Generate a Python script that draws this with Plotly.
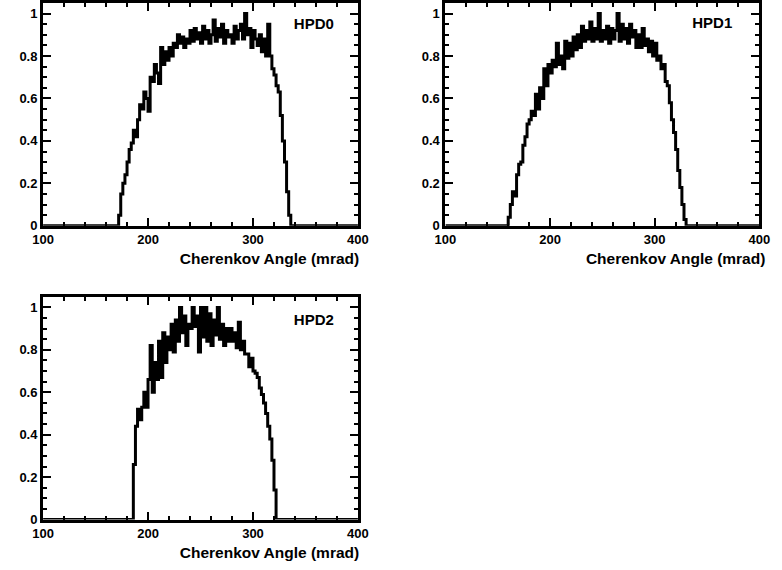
import plotly.graph_objects as go

W, H = 782, 570
BIN = 2.0
X_RANGE = [100, 400]
Y_RANGE = [0, 1.05]
x_tick0, x_dtick, x_minor = 100, 100, 20
y_tick0, y_dtick, y_minor = 0, 0.2, 0.05
x_title = "Cherenkov Angle (mrad)"
names = ["HPD0", "HPD1", "HPD2"]

hpd0_start = 172
hpd0 = [0.05, 0.15, 0.20, 0.24, 0.30, 0.36, 0.39, 0.45, 0.42, 0.50,
        0.57, 0.55, 0.63, 0.60, 0.54, 0.70, 0.68, 0.76, 0.72, 0.67,
        0.84, 0.76, 0.82, 0.78, 0.84, 0.80, 0.86, 0.84, 0.90, 0.86,
        0.89, 0.84, 0.88, 0.86, 0.92, 0.87, 0.93, 0.88, 0.91, 0.86,
        0.94, 0.88, 0.92, 0.86, 0.90, 0.97, 0.87, 0.93, 0.89, 0.95,
        0.86, 0.92, 0.89, 0.90, 0.86, 0.94, 0.88, 0.92, 0.95, 0.88,
        1.00, 0.90, 0.93, 0.84, 0.92, 0.88, 0.85, 0.90, 0.82, 0.88,
        0.80, 0.95, 0.80, 0.74, 0.71, 0.66, 0.63, 0.52, 0.40, 0.30,
        0.16, 0.05, 0.0]

hpd1_start = 160
hpd1 = [0.04, 0.10, 0.16, 0.14, 0.24, 0.29, 0.30, 0.38, 0.42, 0.48,
        0.50, 0.54, 0.52, 0.62, 0.55, 0.65, 0.60, 0.74, 0.66, 0.76,
        0.72, 0.78, 0.75, 0.86, 0.76, 0.80, 0.74, 0.87, 0.79, 0.86,
        0.80, 0.89, 0.83, 0.90, 0.84, 0.94, 0.87, 0.92, 0.88, 0.96,
        0.87, 0.93, 0.88, 1.00, 0.87, 0.92, 0.88, 0.94, 0.86, 0.93,
        0.88, 0.92, 1.00, 0.87, 0.95, 0.88, 0.93, 0.86, 0.95, 0.89,
        0.92, 0.84, 0.90, 0.84, 0.93, 0.85, 0.88, 0.82, 0.87, 0.80,
        0.86, 0.78, 0.80, 0.74, 0.76, 0.68, 0.66, 0.58, 0.50, 0.44,
        0.36, 0.26, 0.18, 0.10, 0.03, 0.0]

hpd2_start = 186
hpd2 = [0.26, 0.44, 0.52, 0.47, 0.53, 0.60, 0.53, 0.66, 0.82, 0.60,
        0.74, 0.66, 0.84, 0.67, 0.88, 0.74, 0.86, 0.80, 0.92, 0.79,
        0.94, 0.84, 1.00, 0.88, 0.96, 0.82, 0.92, 0.90, 1.00, 0.91,
        0.96, 0.79, 1.00, 0.86, 1.00, 0.84, 0.97, 0.82, 0.94, 0.87,
        1.00, 0.85, 0.92, 0.82, 0.90, 0.84, 0.90, 0.84, 0.88, 0.81,
        0.93, 0.80, 0.84, 0.78, 0.78, 0.72, 0.76, 0.70, 0.69, 0.67,
        0.62, 0.59, 0.55, 0.50, 0.44, 0.38, 0.28, 0.14, 0.0]

series = [(hpd0_start, hpd0), (hpd1_start, hpd1), (hpd2_start, hpd2)]

# panel boxes in pixels: left, right, top, bottom
panels = [(33, 357, 3, 229), (447, 770, 3, 229), (33, 357, 301, 527)]
# label anchor positions in data coordinates of each panel
name_xy = [(358, 0.944), (355, 0.949), (358, 0.935)]
# transparent leading padding pushes the centred axis title towards the right end
title_pad = [16, 17, 16]

FONT = "Liberation Sans, Arial, sans-serif"
TFONT = dict(family=FONT, size=15, color="black", weight="bold")

fig = go.Figure()

for i, ((start, vals), (l, r, t, b)) in enumerate(zip(series, panels)):
    k = "" if i == 0 else str(i + 1)
    edges = [start + BIN * j for j in range(len(vals))]
    xs = [X_RANGE[0]] + edges + [X_RANGE[1]]
    ys = [0.0] + list(vals) + [0.0]
    fig.add_trace(go.Scatter(x=xs, y=ys, mode="lines", line_shape="hv",
                             line=dict(color="black", width=3),
                             xaxis="x" + k, yaxis="y" + k, hoverinfo="skip"))
    nx, ny = name_xy[i]
    fig.add_trace(go.Scatter(x=[nx], y=[ny], mode="text", text=[names[i]],
                             textposition="middle center", textfont=TFONT,
                             xaxis="x" + k, yaxis="y" + k, hoverinfo="skip"))
    pad = '<span style="color:rgba(0,0,0,0)">' + "0" * title_pad[i] + "</span>"
    common = dict(showline=True, linewidth=3, linecolor="black", mirror="allticks",
                  ticks="inside", ticklen=8, tickwidth=2, tickcolor="black",
                  showgrid=False, zeroline=False, tickmode="linear",
                  tickfont=dict(family=FONT, size=13, color="black", weight="bold"))
    xa = dict(common, domain=[l / W, r / W], range=X_RANGE,
              anchor="y" + k, tick0=x_tick0, dtick=x_dtick,
              minor=dict(ticks="inside", ticklen=4, tickwidth=2, dtick=x_minor),
              title=dict(text=pad + x_title,
                         font=dict(family=FONT, size=15.5, color="black", weight="bold"),
                         standoff=7))
    ya = dict(common, domain=[1 - b / H, 1 - t / H], range=Y_RANGE,
              anchor="x" + k, tick0=y_tick0, dtick=y_dtick,
              minor=dict(ticks="inside", ticklen=4, tickwidth=2, dtick=y_minor))
    fig.update_layout(**{"xaxis" + k: xa, "yaxis" + k: ya})

fig.update_layout(width=W, height=H, margin=dict(l=0, r=0, t=0, b=0),
                  plot_bgcolor="white", showlegend=False)
fig.write_html("out.html")
